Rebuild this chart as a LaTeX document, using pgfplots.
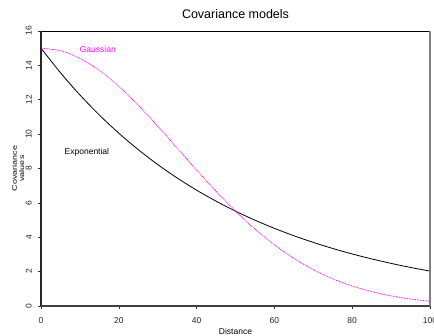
\documentclass[border=0pt]{standalone}
\usepackage{pgfplots}
\pgfplotsset{compat=1.18}
\usetikzlibrary{calc}
\usepackage{fontspec}
\setmainfont{Liberation Sans}
\definecolor{gmag}{rgb}{1,0,1}
\begin{document}
\begin{tikzpicture}
\begin{axis}[
  name=ax,
  scale only axis,
  width=389bp, height=275bp,
  xmin=0, xmax=100, ymin=0, ymax=16,
  xtick={0,20,40,60,80,100},
  ytick={0,2,4,6,8,10,12,14,16},
  axis line style={draw=none},
  tick align=outside,
  major tick length=3bp,
  xtick pos=bottom, ytick pos=left,
  tick style={black!80, line width=0.6bp},
  /pgf/number format/assume math mode=true,
  ticklabel style={font=\fontsize{8.5bp}{10bp}\selectfont, inner sep=0pt, text=black!85},
  yticklabel style={rotate=90, anchor=south},
  yticklabel shift=6bp,
  xticklabel style={anchor=north},
  xticklabel shift=8bp,
  clip=false,
]
\addplot[black, line width=0.8bp, smooth] coordinates {
(0,15) (5,13.573) (10,12.281) (15,11.112) (20,10.055) (25,9.098) (30,8.232)
(35,7.449) (40,6.740) (45,6.099) (50,5.518) (55,4.993) (60,4.518) (65,4.088)
(70,3.699) (75,3.347) (80,3.028) (85,2.740) (90,2.479) (95,2.243) (100,2.030)};
\addplot[gmag, line width=0.8bp, dash pattern=on 0.8bp off 0.8bp, smooth] coordinates {
(0,15) (5,14.851) (10,14.412) (15,13.709) (20,12.782) (25,11.682) (30,10.465)
(35,9.190) (40,7.911) (45,6.673) (50,5.518) (55,4.473) (60,3.554) (65,2.771)
(70,2.113) (75,1.581) (80,1.161) (85,0.834) (90,0.588) (95,0.406) (100,0.275)};
\node[gmag, font=\fontsize{8.5bp}{10bp}\selectfont] at (axis cs:14.6,14.95) {Gaussian};
\node[black, font=\fontsize{8.5bp}{10bp}\selectfont] at (axis cs:11.8,8.96) {Exponential};
\end{axis}
\draw[black, line width=0.6bp] (ax.north west) -- (ax.north east);
\draw[black!75, line width=2bp] ([xshift=-1bp]ax.south west) -- ([xshift=1bp]ax.south east);
\draw[black!85, line width=1.3bp] (ax.south west) -- (ax.north west);
\draw[black!50, line width=2bp] (ax.south east) -- (ax.north east);
\node[font=\fontsize{12.5bp}{14bp}\selectfont] at ([yshift=17bp]$(ax.north west)!0.5!(ax.north east)$) {Covariance models};
\node[font=\fontsize{8.5bp}{10bp}\selectfont] at ([yshift=-25bp]$(ax.south west)!0.5!(ax.south east)$) {Distance};
\node[rotate=90] at ([xshift=-23bp]$(ax.south west)!0.5!(ax.north west)$) {\scalebox{1}[0.75]{\fontsize{9bp}{10bp}\selectfont\shortstack{Covariance\\values}}};
\pgfresetboundingbox
\path[use as bounding box] ([shift={(-41bp,-30bp)}]ax.south west) rectangle ([shift={(4bp,31bp)}]ax.north east);
\end{tikzpicture}
\end{document}
